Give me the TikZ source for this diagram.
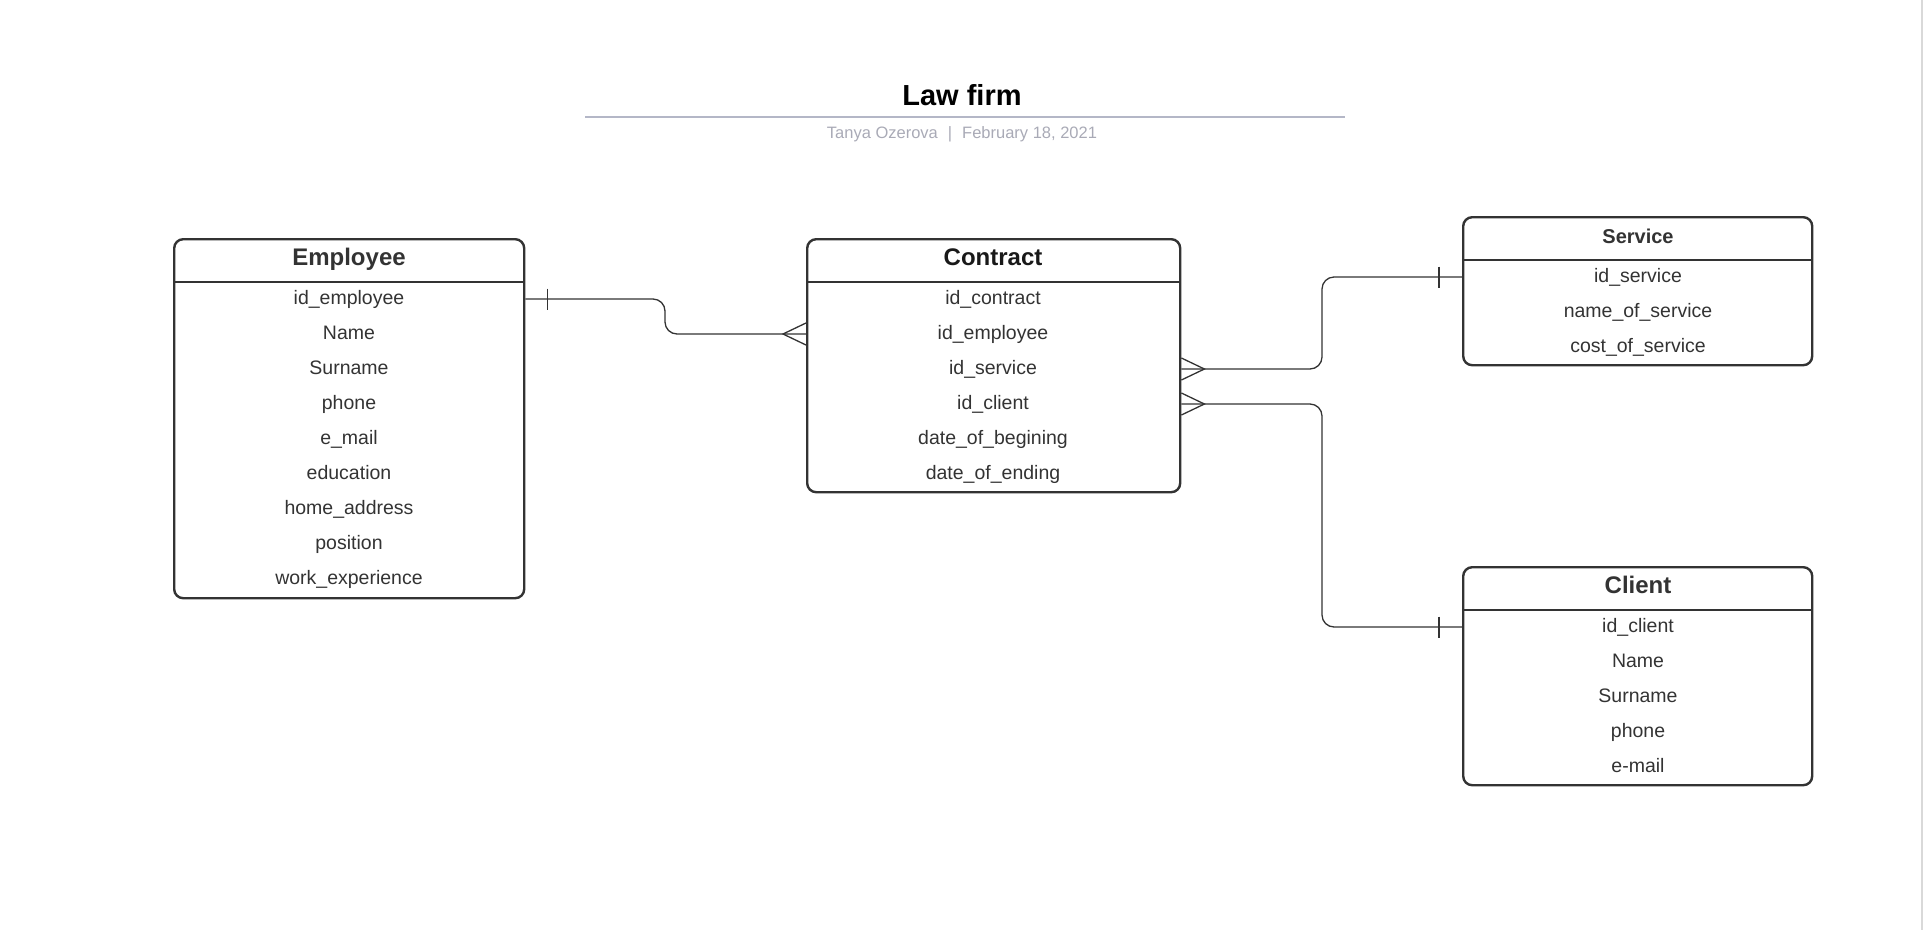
\documentclass[tikz,border=0pt]{standalone}
\usepackage{fontspec}
\setmainfont{Liberation Sans}
\usetikzlibrary{calc}

\definecolor{ink}{HTML}{333333}
\definecolor{rulegray}{HTML}{B4B7C7}
\definecolor{subtext}{HTML}{A9AAB6}

\tikzset{
  table/.style={draw=ink, line width=2.4pt, rounded corners=9pt, anchor=north west, inner sep=0pt},
  head/.style={font=\bfseries\fontsize{24}{28}\selectfont, text=ink, anchor=base},
  field/.style={font=\fontsize{19.5}{23}\selectfont, text=ink, text height=14pt, text depth=4pt, inner sep=0pt},
  conn/.style={draw=ink, line width=1.3pt},
}

\begin{document}
\begin{tikzpicture}[x=1pt,y=-1pt]
		\useasboundingbox (0,0) rectangle (1924,930);
		\draw[black!15, line width=2pt] (1922,0) -- (1922,930);
		
		% TITLE
		\node[font=\bfseries\fontsize{29}{34}\selectfont, anchor=base] (title) at (962,105) {Law firm};
		\coordinate (ruleL) at (585,117);
		\coordinate (ruleR) at (1345,117);
		\draw[rulegray, line width=2.5pt] (ruleL) -- (ruleR);
		\node[font=\fontsize{16.5}{20}\selectfont, text=subtext, anchor=base] (byline) at (962,138) {Tanya Ozerova\hspace{10pt}|\hspace{10pt}February 18, 2021};
		
		% EMPLOYEE
		\node[table, minimum width=350pt, minimum height=359pt] (emp) at (173,238) {};
		\draw[ink, line width=2.4pt] ($(emp.north west)+(0,44)$) -- ($(emp.north east)+(0,44)$);
		\node[head] (emphead) at (349,265) {Employee};
		\foreach \t [count=\i] in {id\_employee, Name, Surname, phone, e\_mail, education, home\_address, position, work\_experience}
			\node[field] (e\i) at (349,264+35*\i) {\t};
		
		% CONTRACT
		\node[table, minimum width=373pt, minimum height=253pt] (con) at (806,238) {};
		\draw[ink, line width=2.4pt] ($(con.north west)+(0,44)$) -- ($(con.north east)+(0,44)$);
		\node[head, text=black!90] (conhead) at (993,265) {Contract};
		\foreach \t [count=\i] in {id\_contract, id\_employee, id\_service, id\_client, date\_of\_begining, date\_of\_ending}
			\node[field] (c\i) at (993,264+35*\i) {\t};
		
		% SERVICE
		\node[table, minimum width=349pt, minimum height=148pt] (srv) at (1462,216) {};
		\draw[ink, line width=2.4pt] ($(srv.north west)+(0,44)$) -- ($(srv.north east)+(0,44)$);
		\node[head, font=\bfseries\fontsize{20}{24}\selectfont] (srvhead) at (1638,243) {Service};
		\foreach \t [count=\i] in {id\_service, name\_of\_service, cost\_of\_service}
			\node[field] (s\i) at (1638,242+35*\i) {\t};
		
		% CLIENT
		\node[table, minimum width=349pt, minimum height=218pt] (cli) at (1462,566) {};
		\draw[ink, line width=2.4pt] ($(cli.north west)+(0,44)$) -- ($(cli.north east)+(0,44)$);
		\node[head] (clihead) at (1638,593) {Client};
		\foreach \t [count=\i] in {id\_client, Name, Surname, phone, e-mail}
			\node[field] (k\i) at (1638,592+35*\i) {\t};
		
		% RELATIONS
		\coordinate (bendL) at (665,0);
		\coordinate (bendR) at (1322,0);
		\draw[conn, rounded corners=12pt] (emp.east |- e1) -- (bendL |- e1) -- (bendL |- c2) -- (con.west |- c2);
		\draw[conn] ($(emp.east |- e1)+(22,-10.5)$) -- ++(0,21);
		\draw[conn] ($(con.west |- c2)+(0,-11)$) -- ($(con.west |- c2)+(-23,0)$) -- ($(con.west |- c2)+(0,11)$);
		
		\draw[conn, rounded corners=12pt] (con.east |- c3) -- (bendR |- c3) -- (bendR |- s1) -- (srv.west |- s1);
		\draw[conn] ($(con.east |- c3)+(0,-11)$) -- ($(con.east |- c3)+(23,0)$) -- ($(con.east |- c3)+(0,11)$);
		\draw[conn] ($(srv.west |- s1)+(-23,-10.5)$) -- ++(0,21);
		
		\draw[conn, rounded corners=12pt] (con.east |- c4) -- (bendR |- c4) -- (bendR |- k1) -- (cli.west |- k1);
		\draw[conn] ($(con.east |- c4)+(0,-11)$) -- ($(con.east |- c4)+(23,0)$) -- ($(con.east |- c4)+(0,11)$);
		\draw[conn] ($(cli.west |- k1)+(-23,-10.5)$) -- ++(0,21);
	\end{tikzpicture}
\end{document}
